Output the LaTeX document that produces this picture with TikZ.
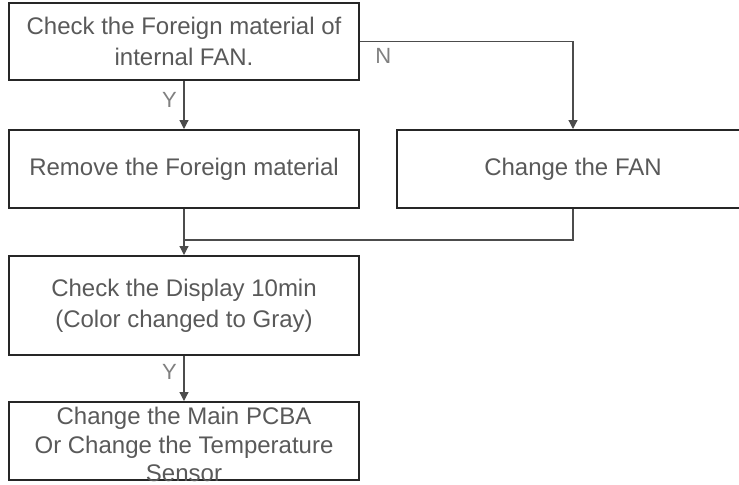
\documentclass[tikz,border=0pt]{standalone}
\usepackage{fontspec}
\setmainfont{Liberation Sans}
\usetikzlibrary{arrows.meta}

\tikzset{
  box/.style={draw=black!85, line width=1pt, minimum width=175pt,
    minimum height=39pt, inner sep=0pt, align=center, text=black!65,
    font=\fontsize{12}{15.5}\selectfont},
  link/.style={draw=black!70, line width=0.6pt},
  yn/.style={text=black!50, font=\fontsize{11}{13}\selectfont}
}

\begin{document}
\begin{tikzpicture}[x=0.5pt,y=-0.5pt,>={Triangle[width=4.5pt,length=4.5pt]}]
  \useasboundingbox (0,0) rectangle (739,484);
  \node[box, minimum height=38.5pt] (check) at (184,41.5)
    {Check the Foreign material of\\internal FAN.};
  \node[box] (remove) at (184,169) {Remove the Foreign material};
  \node[box, minimum width=176pt] (fan) at (573,169) {Change the FAN};
  \node[box, minimum height=49.5pt] (display) at (184,305.5)
    {Check the Display 10min\\(Color changed to Gray)};
  \node[box] (result) at (184,441) {};
  \node[box, draw=none, minimum width=0pt, minimum height=0pt,
    font=\fontsize{12}{14.25}\selectfont] (resulttext) at (184,444.5)
    {Change the Main PCBA\\Or Change the Temperature\\Sensor};
  \coordinate (merge) at (184,240);
  \draw[link,->]
    (check)
    -- node[yn, pos=0.4, left] {Y}
    (remove);
  \draw[link,->]
    (check.east) node[yn, below right, xshift=4pt] {N}
    -| (fan.north);
  \draw[link]
    (fan.south)
    |- (merge);
  \draw[link,->]
    (remove)
    -- (display);
  \draw[link,->]
    (display)
    -- node[yn, pos=0.35, left] {Y}
    (result);
\end{tikzpicture}
\end{document}
